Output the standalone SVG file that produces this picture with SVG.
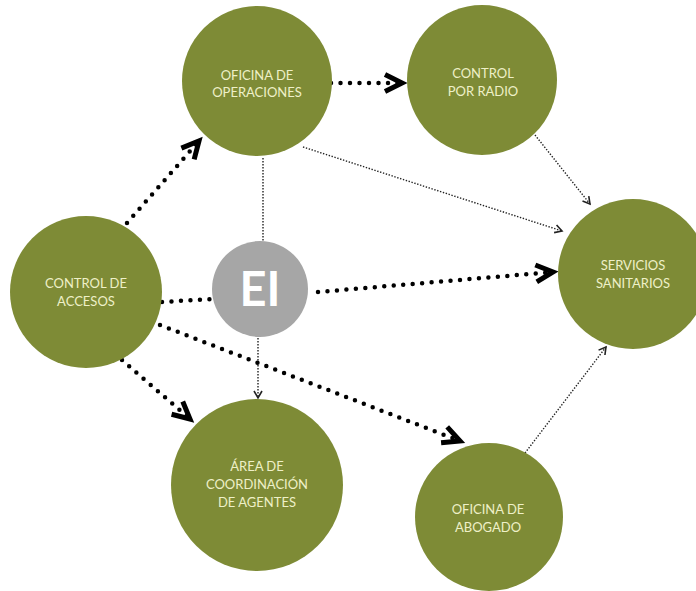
<svg xmlns="http://www.w3.org/2000/svg" width="696" height="591" viewBox="0 0 696 591">
<style>
.node{fill:#7e8b36}
.lbl{font-family:Lato,"Open Sans","Liberation Sans",sans-serif;font-size:13px;fill:#eef0c8;text-anchor:middle}
.ei{fill:#a6a6a6}
.eit{font-family:Lato,"Open Sans","Liberation Sans",sans-serif;font-weight:bold;font-size:47px;fill:#ffffff;text-anchor:middle}
.thick{fill:none;stroke:#000;stroke-width:4.5;stroke-linecap:round;stroke-dasharray:0 9.5}
.thin{fill:none;stroke:#222;stroke-width:1.4;stroke-dasharray:1.4 1.6}
</style>
<defs>
<marker id="big" markerUnits="userSpaceOnUse" orient="auto" refX="0" refY="0" markerWidth="40" markerHeight="40" viewBox="-30 -20 40 40" overflow="visible">
<path d="M-17,-8.5 L0,0 L-17,8.5" fill="none" stroke="#000" stroke-width="5"/>
</marker>
<marker id="small" markerUnits="userSpaceOnUse" orient="auto" refX="0" refY="0" markerWidth="20" markerHeight="20" viewBox="-10 -10 20 20" overflow="visible">
<path d="M-7,-4 L0,0 L-7,4" fill="none" stroke="#222" stroke-width="1.6"/>
</marker>
</defs>
<rect width="696" height="591" fill="#ffffff"/>
<g id="connectors">
<line class="thick" x1="127" y1="223" x2="199" y2="141" marker-end="url(#big)"/>
<line class="thick" x1="331" y1="83" x2="402" y2="83" marker-end="url(#big)"/>
<line class="thin" x1="303" y1="147" x2="562" y2="231" marker-end="url(#small)"/>
<line class="thin" x1="535" y1="135" x2="590" y2="204" marker-end="url(#small)"/>
<line class="thin" x1="263" y1="158" x2="263" y2="241"/>
<line class="thick" x1="162" y1="302" x2="212" y2="299"/>
<line class="thick" x1="318" y1="292" x2="553" y2="272" marker-end="url(#big)"/>
<line class="thin" x1="258" y1="338" x2="258" y2="398" marker-end="url(#small)"/>
<line class="thick" x1="122" y1="360" x2="190" y2="419" marker-end="url(#big)"/>
<line class="thick" x1="160" y1="325" x2="460" y2="441" marker-end="url(#big)"/>
<line class="thin" x1="525" y1="453" x2="606" y2="347" marker-end="url(#small)"/>
</g>
<g id="oficina-operaciones">
<circle class="node" cx="257" cy="81" r="75"/>
<text class="lbl" x="257" y="80">OFICINA DE</text>
<text class="lbl" x="257" y="97">OPERACIONES</text>
</g>
<g id="control-radio">
<circle class="node" cx="482" cy="80" r="75"/>
<text class="lbl" x="483" y="78">CONTROL</text>
<text class="lbl" x="483" y="96">POR RADIO</text>
</g>
<g id="servicios-sanitarios">
<circle class="node" cx="633" cy="274" r="75"/>
<text class="lbl" x="633" y="270">SERVICIOS</text>
<text class="lbl" x="633" y="288">SANITARIOS</text>
</g>
<g id="control-accesos">
<circle class="node" cx="86" cy="292" r="76"/>
<text class="lbl" x="86" y="288">CONTROL DE</text>
<text class="lbl" x="86" y="306">ACCESOS</text>
</g>
<g id="ei">
<circle class="ei" cx="260" cy="289" r="48"/>
<text class="eit" x="260" y="306">EI</text>
</g>
<g id="area-coordinacion">
<circle class="node" cx="257" cy="485" r="86"/>
<text class="lbl" x="257" y="471">ÁREA DE</text>
<text class="lbl" x="257" y="489">COORDINACIÓN</text>
<text class="lbl" x="257" y="507">DE AGENTES</text>
</g>
<g id="oficina-abogado">
<circle class="node" cx="489" cy="517" r="74"/>
<text class="lbl" x="488" y="514">OFICINA DE</text>
<text class="lbl" x="488" y="532">ABOGADO</text>
</g>
</svg>
